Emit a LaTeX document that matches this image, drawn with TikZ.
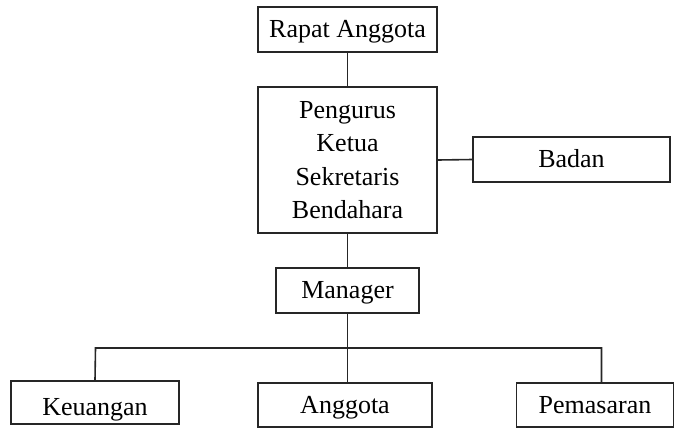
\documentclass[tikz,border=0pt]{standalone}
\usepackage{fontspec}
\setmainfont{Liberation Serif}
\begin{document}
\begin{tikzpicture}[x=1pt,y=-1pt,
  box/.style={draw=black!85, line width=1.5pt, inner sep=0pt, align=center,
    text height=16pt, text depth=0pt,
    font=\fontsize{26}{33.5}\selectfont},
  conn/.style={draw=black!85, line width=1.6pt}]
\useasboundingbox (0,0) rectangle (675,429);
\node[box, minimum width=179pt, minimum height=45pt] (rapat) at (347.5,29.5) {Rapat Anggota};
\node[box, minimum width=179pt, minimum height=146pt, text height=, text depth=] (pengurus) at (347.5,160) {Pengurus\\Ketua\\Sekretaris\\Bendahara};
\node[box, minimum width=197pt, minimum height=45pt] (badan) at (571.5,159.5) {Badan};
\node[box, minimum width=143pt, minimum height=45pt] (manager) at (347.5,290.5) {Manager};
\node[box, minimum width=168pt, minimum height=43pt] (keuangan) at (95,402.5) {\raisebox{-5pt}{Keuangan}};
\node[box, minimum width=174pt, minimum height=44pt] (anggota) at (345,405) {Anggota};
\node[box, minimum width=157pt, minimum height=44pt] (pemasaran) at (595,405) {Pemasaran};
\coordinate (busL) at (95.5,348);
\coordinate (busM) at (347.5,348);
\coordinate (busR) at (601.5,348);
\draw[conn] (rapat.south) -- (pengurus.north);
\draw[conn] (pengurus.east) -- (badan.west);
\draw[conn] (pengurus.south) -- (manager.north);
\draw[conn] (manager.south) -- (busM);
\draw[conn] (keuangan.north) -- (busL) -- (busR) -- (busR |- pemasaran.north);
\draw[conn] (busM) -- (busM |- anggota.north);
\end{tikzpicture}
\end{document}
